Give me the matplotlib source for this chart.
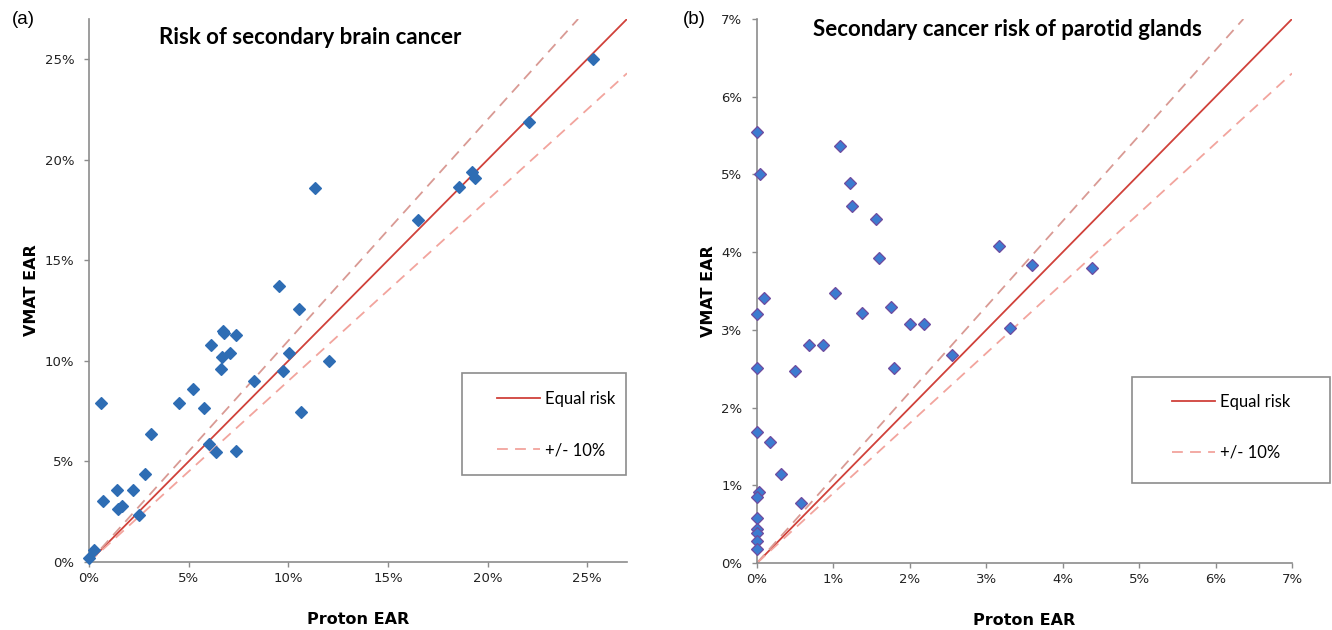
import matplotlib
matplotlib.use("Agg")
import matplotlib.pyplot as plt
from matplotlib.patches import Rectangle
from matplotlib.lines import Line2D
from matplotlib.ticker import FuncFormatter

# panel (a): secondary brain cancer risk, percent
brain_proton = [0.0, 0.25, 0.6, 0.7, 1.4, 1.45, 1.65, 2.2, 2.5, 2.8, 3.1, 4.5, 5.2,
                5.75, 6.0, 6.35, 7.4, 6.1, 6.7, 6.8, 7.4, 6.65, 7.1, 6.6, 8.3, 9.75,
                10.05, 10.55, 12.05, 10.65, 9.55, 11.35, 16.5, 18.55, 19.2, 19.35,
                22.1, 25.3]
brain_vmat = [0.2, 0.6, 7.9, 3.05, 3.6, 2.62, 2.8, 3.6, 2.35, 4.4, 6.35, 7.9, 8.6,
              7.65, 5.85, 5.45, 5.5, 10.8, 11.5, 11.4, 11.3, 10.2, 10.4, 9.6, 9.0, 9.5,
              10.4, 12.6, 10.0, 7.45, 13.7, 18.6, 17.0, 18.65, 19.4, 19.1,
              21.9, 25.0]

# panel (b): secondary cancer risk of parotid glands, percent
parotid_proton = [0.0, 0.045, 0.09, 0.0, 0.0, 0.0, 0.03, 0.0, 0.0, 0.0, 0.0, 0.0, 0.0,
                  0.17, 0.32, 0.58, 0.5, 0.68, 0.86, 1.02, 1.09, 1.22, 1.24, 1.37,
                  1.56, 1.6, 1.75, 1.79, 2.0, 2.19, 2.55, 3.16, 3.6, 4.38, 3.31]
parotid_vmat = [5.55, 5.0, 3.41, 3.2, 2.51, 1.69, 0.91, 0.85, 0.58, 0.44, 0.39, 0.28, 0.18,
                1.56, 1.15, 0.77, 2.47, 2.8, 2.8, 3.47, 5.36, 4.89, 4.59, 3.22,
                4.43, 3.93, 3.3, 2.51, 3.08, 3.08, 2.68, 4.08, 3.83, 3.8, 3.02]

equal_ratio = 1.0
band_ratios = [1.1, 0.9]

panels = [
    dict(x=brain_proton, y=brain_vmat, lim=27, ticks=[0, 5, 10, 15, 20, 25],
         title="Risk of secondary brain cancer", tag="(a)",
         face="#2E6DB4", edge="#2E6DB4"),
    dict(x=parotid_proton, y=parotid_vmat, lim=7, ticks=[0, 1, 2, 3, 4, 5, 6, 7],
         title="Secondary cancer risk of parotid glands", tag="(b)",
         face="#3C7BD0", edge="#6F4B9E"),
]

W, H = 1332, 630
fig = plt.figure(figsize=(W / 100, H / 100), dpi=100)

# axes boxes in pixels: left, top, right, bottom
boxes = [(89, 19, 627, 562), (757, 19, 1292, 563)]
legend_boxes = [(461.7, 373, 626, 475), (1131.7, 376.7, 1330, 483)]
legend_starts = [(497, 391), (1172, 394)]
title_pos = [(310, 38), (1007, 30)]
tag_pos = [(12, 20), (683, 20)]

pct = FuncFormatter(lambda v, p: f"{v:.0f}%")

for p, box, lbox, lstart, tpos, gpos in zip(panels, boxes, legend_boxes,
                                             legend_starts, title_pos, tag_pos):
    l, t, r, b = box
    ax = fig.add_axes([l / W, 1 - b / H, (r - l) / W, (b - t) / H])
    lim = p["lim"]

    ax.plot([0, lim], [0, lim * equal_ratio], color="#D0413A", lw=1.3, zorder=2)
    hi_ratio, lo_ratio = band_ratios
    ax.plot([0, lim / hi_ratio], [0, lim], color="#D99A94", lw=1.3,
            dashes=(6, 4), zorder=2)
    ax.plot([0, lim], [0, lim * lo_ratio], color="#F2A49D", lw=1.3,
            dashes=(6, 4), zorder=2)

    ax.plot(p["x"], p["y"], linestyle="none", marker="D", markersize=6,
            markerfacecolor=p["face"], markeredgecolor=p["edge"],
            markeredgewidth=0.9, zorder=3, clip_on=False)

    ax.set_xlim(0, lim)
    ax.set_ylim(0, lim)
    ax.set_xticks(p["ticks"])
    ax.set_yticks(p["ticks"])
    ax.xaxis.set_major_formatter(pct)
    ax.yaxis.set_major_formatter(pct)
    for s in ["top", "right"]:
        ax.spines[s].set_visible(False)
    for s in ["left", "bottom"]:
        ax.spines[s].set_color("#8C8C8C")
        ax.spines[s].set_linewidth(1.2)
    ax.tick_params(axis="both", direction="out", length=3.5, width=1.0,
                   color="#8C8C8C", labelsize=9.5, labelcolor="#222222")
    ax.tick_params(axis="y", pad=7)
    ax.tick_params(axis="x", pad=4)

    ax.set_xlabel("Proton EAR", fontsize=11.5, fontweight="bold", labelpad=19)
    ax.set_ylabel("VMAT EAR", fontsize=11.5, fontweight="bold", labelpad=4)

    fig.text(tpos[0] / W, 1 - tpos[1] / H, p["title"], ha="center", va="center",
             fontsize=16, fontweight="bold", family="Lato")
    fig.text(gpos[0] / W, 1 - gpos[1] / H, p["tag"], ha="left", va="center",
             fontsize=13.5, family="Liberation Sans")

    # legend frame drawn separately so the entries can sit off-centre like the original
    lx0, ly0, lx1, ly1 = lbox
    fig.patches.append(Rectangle((lx0 / W, 1 - ly1 / H), (lx1 - lx0) / W, (ly1 - ly0) / H,
                                 transform=fig.transFigure, facecolor="white",
                                 edgecolor="#8C8C8C", lw=1.2, zorder=5))
    handles = [Line2D([], [], color="#D0413A", lw=1.3),
               Line2D([], [], color="#F2A49D", lw=1.3, dashes=(6, 4))]
    leg = fig.legend(handles, ["Equal risk", "+/- 10%"], loc="upper left",
                     bbox_to_anchor=(lstart[0] / W, 1 - lstart[1] / H),
                     frameon=False, borderpad=0, borderaxespad=0,
                     handlelength=2.6, handletextpad=0.3, labelspacing=2.1,
                     prop={"family": "Lato", "size": 12})
    leg.set_zorder(6)

fig.savefig("out.png", dpi=100)
